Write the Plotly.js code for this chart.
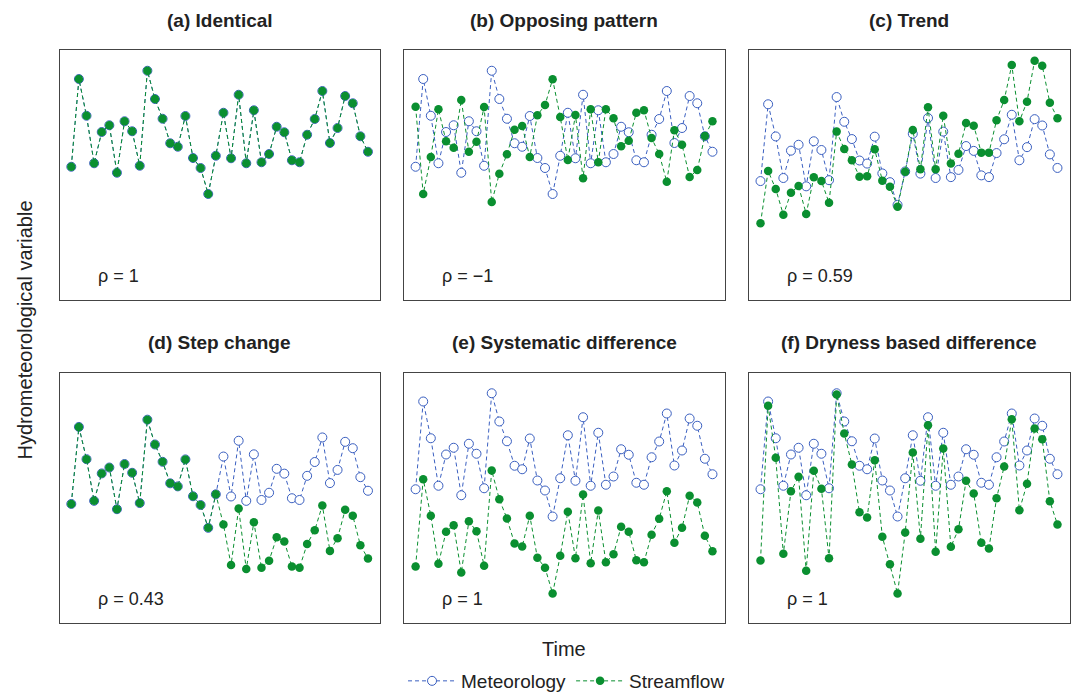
<!DOCTYPE html>
<html>
<head>
<meta charset="utf-8">
<script src="https://cdn.plot.ly/plotly-3.0.1.min.js"></script>
<style>html,body{margin:0;padding:0;background:#fff;}#chart{width:1075px;height:695px;}</style>
</head>
<body>
<div id="chart"></div>
<script>
// ---- data ----
const time = [1,2,3,4,5,6,7,8,9,10,11,12,13,14,15,16,17,18,19,20,21,22,23,24,25,26,27,28,29,30,31,32,33,34,35,36,37,38,39,40];

const meteorology = [53.3,88.4,73.7,54.7,67.2,69.9,50.9,71.5,67.5,53.7,91.7,80.4,72.5,62.7,61.3,73.6,56.8,52.8,42.4,57.7,74.9,56.7,82.1,54.7,75.9,55.1,58.4,69.3,67.1,55.9,55.1,66.1,72.4,83.6,62.8,68.8,81.6,78.7,65.5,59.3];

const flowIdentical = [53.3,88.4,73.7,54.7,67.2,69.9,50.9,71.5,67.5,53.7,91.7,80.4,72.5,62.7,61.3,73.6,56.8,52.8,42.4,57.7,74.9,56.7,82.1,54.7,75.9,55.1,58.4,69.3,67.1,55.9,55.1,66.1,72.4,83.6,62.8,68.8,81.6,78.7,65.5,59.3];

const flowOpposing = [77.3,42.4,57.2,76.3,63.5,60.9,80.0,59.3,63.3,77.2,39.2,50.5,58.3,68.1,69.6,57.2,73.9,78.0,88.3,73.2,56.0,74.0,48.7,76.3,55.1,76.3,72.7,61.5,63.7,74.9,75.9,64.8,58.4,47.3,67.9,62.1,49.2,52.0,65.6,71.5];

const flowTrend = [34.0,57.9,49.7,37.9,48.0,51.0,38.3,55.0,53.3,43.4,75.9,68.0,62.8,55.3,55.5,67.8,53.5,50.7,41.6,57.6,76.6,58.7,87.0,58.7,83.2,61.3,65.8,79.8,78.6,66.3,66.3,81.1,90.3,106.3,80.6,89.6,108.3,106.0,89.1,82.0];

const flowStep = [53.3,88.4,73.7,54.7,67.2,69.9,50.9,71.5,67.5,53.7,91.7,80.4,72.5,62.7,61.3,73.6,56.8,52.8,42.4,57.7,43.9,25.5,51.2,23.6,45.0,24.2,27.4,38.1,36.2,24.8,24.2,35.0,41.3,52.6,31.9,37.7,50.6,47.9,34.5,28.4];

const flowSystematic = [22.4,57.3,42.7,23.5,36.3,38.9,20.0,40.5,36.5,22.7,60.8,49.3,41.6,31.6,30.4,42.7,25.9,21.9,11.6,26.7,44.3,25.7,51.2,23.7,44.8,24.1,27.3,38.3,36.3,24.9,24.1,35.1,41.5,52.5,31.9,37.9,50.7,48.0,34.7,28.5];

const flowDryness = [24.8,86.7,65.9,27.5,52.5,58.3,20.7,60.7,53.5,25.7,91.2,75.6,63.2,44.1,42.0,64.9,34.3,23.3,11.6,36.0,68.0,33.5,78.9,28.3,69.6,30.3,37.3,56.7,51.6,31.9,29.6,49.7,62.4,81.3,44.9,55.5,77.6,73.3,48.5,39.2];

const panelTitles = ["(a) Identical","(b) Opposing pattern","(c) Trend","(d) Step change","(e) Systematic difference","(f) Dryness based difference"];
const rhoLabels = ["ρ = 1","ρ = −1","ρ = 0.59","ρ = 0.43","ρ = 1","ρ = 1"];
const flows = [flowIdentical, flowOpposing, flowTrend, flowStep, flowSystematic, flowDryness];

// ---- layout (pixel geometry converted to paper fractions) ----
const W = 1075, H = 695;
const FONT = "Liberation Sans, Arial, Helvetica, sans-serif";
const BLUE = "#3a5fc0", GREEN = "#0a8f30";
const colsPx = [[59.5,380],[403.8,724.5],[748.7,1069.5]];
const rowsPx = [[50,300],[372.5,622.5]];
const yRanges = [[0,100],[0,100],[-1.05,113.2],[-0.74,113.2],[0,100],[0,100]];
const xRange = [-0.55,41.58];

const traces = [];
const layout = {
  width: W, height: H,
  margin: {l:0,r:0,t:0,b:0, autoexpand: false},
  paper_bgcolor: "#fff", plot_bgcolor: "#fff",
  font: {family: FONT, color: "#222"},
  showlegend: true,
  legend: {orientation: "h", x: 0.527, xanchor: "center", y: 14/H, yanchor: "middle",
           font: {family: FONT, size: 19, color: "#222"}, bgcolor: "rgba(0,0,0,0)",
           itemwidth: 48, tracegroupgap: 0},
  annotations: [], shapes: []
};

for (let i = 0; i < 6; i++) {
  const r = Math.floor(i / 3), c = i % 3;
  const n = i + 1;
  const xa = "xaxis" + (n === 1 ? "" : n), ya = "yaxis" + (n === 1 ? "" : n);
  const xr = "x" + (n === 1 ? "" : n), yr = "y" + (n === 1 ? "" : n);
  const axCommon = {showgrid: false, zeroline: false, showticklabels: false, ticks: "",
                    showline: true, mirror: true, linecolor: "#444", linewidth: 1, fixedrange: true};
  layout[xa] = Object.assign({}, axCommon, {domain: [colsPx[c][0]/W, colsPx[c][1]/W], range: xRange, anchor: yr});
  layout[ya] = Object.assign({}, axCommon, {domain: [(H-rowsPx[r][1])/H, (H-rowsPx[r][0])/H], range: yRanges[i], anchor: xr});

  traces.push({
    x: time, y: meteorology, xaxis: xr, yaxis: yr, type: "scatter", mode: "lines+markers",
    name: "Meteorology", legendgroup: "met", showlegend: i === 0,
    line: {color: BLUE, width: 1, dash: "4px,3px"},
    marker: {symbol: "circle", size: 9, color: "#ffffff", line: {width: 1, color: BLUE}}
  });
  traces.push({
    x: time, y: flows[i], xaxis: xr, yaxis: yr, type: "scatter", mode: "lines+markers",
    name: "Streamflow", legendgroup: "flow", showlegend: i === 0,
    line: {color: GREEN, width: 1, dash: "4px,3px"},
    marker: {symbol: "circle", size: 8.5, color: GREEN, line: {width: 0}}
  });

  // panel title
  layout.annotations.push({
    text: "<b>" + panelTitles[i] + "</b>", xref: "paper", yref: "paper",
    x: (colsPx[c][0] + colsPx[c][1]) / 2 / W, y: (H - (rowsPx[r][0] - 30)) / H,
    xanchor: "center", yanchor: "middle", showarrow: false,
    font: {family: FONT, size: 19, color: "#222"}
  });
  // rho label
  layout.annotations.push({
    text: rhoLabels[i], xref: xr + " domain", yref: yr + " domain",
    x: 36 / (colsPx[c][1] - colsPx[c][0]), y: 24 / 250,
    xanchor: "left", yanchor: "middle", showarrow: false,
    font: {family: FONT, size: 18, color: "#222"}
  });
}

layout.annotations.push({
  text: "Hydrometeorological variable", xref: "paper", yref: "paper",
  x: 24 / W, y: (H - 330.5) / H, xanchor: "center", yanchor: "middle",
  textangle: -90, showarrow: false, font: {family: FONT, size: 20, color: "#222"}
});
layout.annotations.push({
  text: "Time", xref: "paper", yref: "paper",
  x: 564 / W, y: (H - 649) / H, xanchor: "center", yanchor: "middle",
  showarrow: false, font: {family: FONT, size: 20, color: "#222"}
});

Plotly.newPlot("chart", traces, layout, {displayModeBar: false, staticPlot: true});
</script>
</body>
</html>
